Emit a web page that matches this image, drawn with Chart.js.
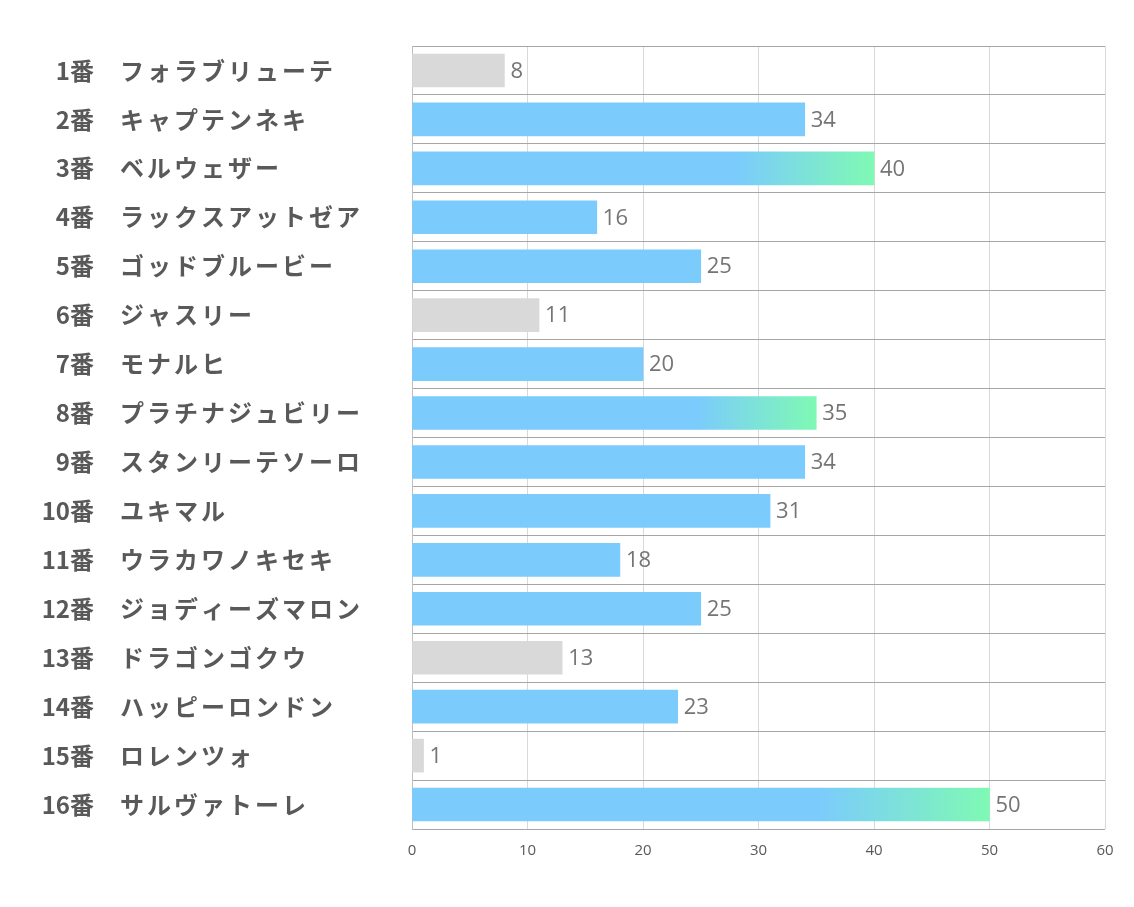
<!DOCTYPE html>
<html>
<head>
<meta charset="utf-8">
<script src="https://cdn.jsdelivr.net/npm/chart.js@4/dist/chart.umd.min.js"></script>
<style>
  html, body { margin: 0; padding: 0; background: #fff; }
  #wrap { width: 1134px; height: 907px; }
</style>
</head>
<body>
<div id="wrap"><canvas id="c"></canvas></div>
<script>
const horseNos = ['1番', '2番', '3番', '4番', '5番', '6番', '7番', '8番',
  '9番', '10番', '11番', '12番', '13番', '14番', '15番', '16番'];
const horseNames = ['フォラブリューテ', 'キャプテンネキ', 'ベルウェザー', 'ラックスアットゼア',
  'ゴッドブルービー', 'ジャスリー', 'モナルヒ', 'プラチナジュビリー',
  'スタンリーテソーロ', 'ユキマル', 'ウラカワノキセキ', 'ジョディーズマロン',
  'ドラゴンゴクウ', 'ハッピーロンドン', 'ロレンツォ', 'サルヴァトーレ'];
const scores = [8, 34, 40, 16, 25, 11, 20, 35, 34, 31, 18, 25, 13, 23, 1, 50];
const lowRated = [0, 5, 12, 14];   // gray bars
const topRated = [2, 7, 15];       // gradient bars
const xTicks = [0, 10, 20, 30, 40, 50, 60];

const BLUE = '#7BCBFD';
const GREEN = '#7FF9B4';
const GRAY = '#D9D9D9';

function barColor(ctx) {
  const i = ctx.dataIndex;
  if (lowRated.includes(i)) return GRAY;
  if (!topRated.includes(i)) return BLUE;
  const chart = ctx.chart;
  const x = chart.scales && chart.scales.x;
  if (!chart.chartArea || !x) return BLUE;
  const x0 = x.getPixelForValue(0);
  const x1 = x.getPixelForValue(scores[i]);
  const g = chart.ctx.createLinearGradient(x0, 0, x1, 0);
  g.addColorStop(0, BLUE);
  g.addColorStop(0.7, BLUE);
  g.addColorStop(1, GREEN);
  return g;
}

// category labels + value labels
const labelPlugin = {
  id: 'labels',
  afterDatasetsDraw(chart) {
    const ctx = chart.ctx;
    const y = chart.scales.y;
    const meta = chart.getDatasetMeta(0);
    ctx.save();
    ctx.textBaseline = 'middle';
    ctx.fillStyle = '#595959';
    horseNos.forEach((no, i) => {
      const py = y.getPixelForValue(i);
      ctx.font = 'bold 24px "Noto Sans CJK JP"';
      ctx.textAlign = 'right';
      ctx.letterSpacing = '0px';
      ctx.fillText(no, 94, py);
      ctx.textAlign = 'left';
      ctx.letterSpacing = '3px';
      ctx.fillText(horseNames[i], 120, py);
    });
    ctx.letterSpacing = '0px';
    ctx.font = '22px "Open Sans"';
    ctx.fillStyle = '#757575';
    ctx.textAlign = 'left';
    meta.data.forEach((bar, i) => {
      ctx.fillText(String(scores[i]), bar.x + 6, bar.y + 1);
    });
    ctx.restore();
  }
};

new Chart(document.getElementById('c'), {
  type: 'bar',
  data: {
    labels: horseNos.map((n, i) => n + '　' + horseNames[i]),
    datasets: [{
      data: scores,
      backgroundColor: barColor,
      barThickness: 33,
      borderWidth: 0
    }]
  },
  options: {
    indexAxis: 'y',
    responsive: true,
    maintainAspectRatio: false,
    animation: false,
    layout: { padding: { top: 46, right: 29, bottom: 0, left: 0 } },
    plugins: {
      legend: { display: false },
      tooltip: { enabled: false }
    },
    scales: {
      x: {
        min: 0,
        max: 60,
        afterBuildTicks: (axis) => { axis.ticks = xTicks.map(v => ({ value: v })); },
        afterFit: (axis) => { axis.height = 78; },
        grid: { color: '#D9D9D9', lineWidth: 1, drawTicks: false },
        border: { display: false },
        ticks: {
          color: '#595959',
          font: { family: 'Open Sans', size: 15 },
          padding: 13
        }
      },
      y: {
        afterFit: (axis) => { axis.width = 412; },
        grid: { color: '#A6A6A6', lineWidth: 1, drawTicks: false, offset: true },
        border: { display: true, color: '#BFBFBF', width: 1 },
        ticks: { display: false }
      }
    }
  },
  plugins: [labelPlugin]
});
</script>
</body>
</html>
